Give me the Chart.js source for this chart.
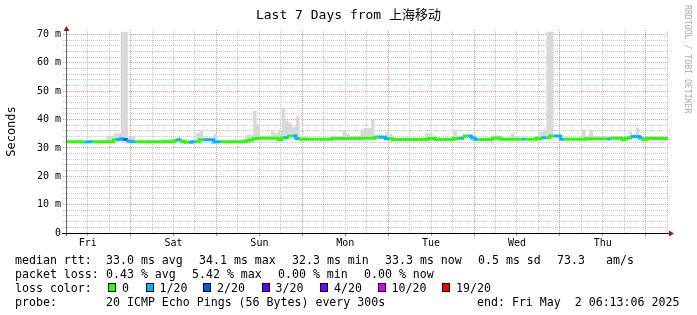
<!DOCTYPE html>
<html>
<head>
<meta charset="utf-8">
<script src="https://cdn.jsdelivr.net/npm/chart.js@4.4.1/dist/chart.umd.min.js"></script>
<style>
  body { margin: 0; background: #fff; }
  #wrap { position: relative; width: 697px; height: 315px; font-family: 'DejaVu Sans Mono', monospace; color: #000; }
  #wrap canvas { position: absolute; left: 0; top: 0; }
  #title { position: absolute; left: 0; top: 7px; width: 697px; text-align: center; font-size: 13px; line-height: 16px;
           font-family: 'DejaVu Sans Mono', 'Noto Sans CJK SC', monospace; white-space: pre; }
  .leg { position: absolute; font-size: 11.6px; line-height: 14px; white-space: pre; }
  .box { position: absolute; width: 8px; height: 9px; box-sizing: border-box; border: 1px solid #000; }
  #credit { position: absolute; left: 692px; top: 5px; transform: rotate(90deg); transform-origin: 0 0;
            font-size: 8.2px; line-height: 8px; white-space: pre; color: #aaa; }
</style>
</head>
<body>
<div id="wrap">
  <canvas id="chart" width="697" height="315"></canvas>
  <div id="title">Last 7 Days from 上海移动</div>
  <div id="credit">RRDTOOL / TOBI OETIKER</div>
</div>
<script>
// hourly values, first sample = Fri 06:13
const DAYS = ['Fri', 'Sat', 'Sun', 'Mon', 'Tue', 'Wed', 'Thu'];
const START = 6.22; // hours after Fri 00:00

const median = [
  32.2,32.2,32.2,32.2,32.2,32.1,32.1,32.2,32.2,32.2,32.2,32.2,32.2,32.2,32.8,33.0,33.2,33.0,32.4,32.2,32.2,32.2,32.2,32.2,
  32.2,32.2,32.2,32.2,32.2,32.2,32.2,32.6,32.9,32.3,32.0,32.0,32.2,32.2,32.9,32.9,32.9,32.9,32.1,32.2,32.2,32.2,32.2,32.2,
  32.2,32.2,32.2,32.5,32.8,33.2,33.4,33.4,33.4,33.4,33.4,33.4,33.0,33.5,33.6,34.2,34.2,33.3,33.1,33.1,33.1,33.1,33.1,33.1,
  33.1,33.1,33.1,33.3,33.3,33.3,33.3,33.3,33.3,33.3,33.3,33.4,33.4,33.4,33.4,33.8,33.8,33.8,33.2,33.2,33.0,33.0,33.0,33.0,
  33.0,33.0,33.0,33.0,33.0,33.0,33.3,33.3,33.0,33.0,33.0,33.0,33.0,33.3,33.3,33.4,34.2,34.2,33.5,33.0,33.0,33.0,33.0,33.0,
  33.4,33.5,33.1,33.1,33.1,33.1,33.1,33.1,33.1,33.1,33.1,33.1,33.3,33.2,33.6,33.6,34.2,34.2,34.2,33.1,33.1,33.1,33.1,33.1,
  33.1,33.1,33.2,33.2,33.2,33.2,33.2,33.2,33.2,33.4,33.4,33.4,33.0,33.4,33.6,34.0,34.0,33.5,33.0,33.3,33.3,33.3,33.3,33.3
];

// index into LOSS_COLORS
const loss = [
  0,0,0,0,0,1,1,0,0,0,0,0,0,0,1,1,2,1,1,0,0,0,0,0,
  0,0,0,0,0,0,0,1,0,0,1,1,0,0,1,1,1,1,1,0,0,0,0,0,
  0,0,0,0,0,0,0,0,0,0,0,0,0,1,0,1,1,0,0,0,0,0,0,0,
  0,0,0,0,0,0,0,0,0,0,0,0,0,0,0,1,1,1,0,0,0,0,0,0,
  0,0,0,0,0,0,0,0,0,0,0,0,0,0,1,0,1,1,1,0,0,0,0,0,
  0,0,0,0,0,0,0,1,0,0,0,0,0,1,0,0,1,1,1,0,0,0,0,0,
  0,0,0,0,0,0,0,1,0,0,0,0,0,0,1,1,1,0,0,0,0,0,0,0
];

// top of the smoke for each hour
const smokeMax = [
  32.5,32.5,32.5,32.5,32.5,32.5,32.5,32.5,32.5,32.5,32.5,32.5,34.3,34.3,35.2,35.2,71,71,34.0,34.0,32.5,32.5,32.5,32.5,
  32.5,32.5,32.5,32.5,33.0,33.0,33.0,33.2,33.2,33.2,32.5,32.5,32.5,35.2,36.2,33.5,33.5,33.5,35.0,32.5,32.5,32.5,32.5,32.5,
  32.5,32.5,32.5,34.6,34.6,43.0,38.5,33.8,33.8,33.8,36.0,35.2,36.4,43.7,39.7,38.7,37.3,41.1,34.3,34.3,33.5,33.5,33.5,33.5,
  33.5,33.5,33.5,33.5,33.5,33.5,36.2,35.0,33.7,33.7,33.7,36.5,37.0,37.0,40.0,34.5,35.0,34.5,35.5,35.0,33.4,33.4,33.4,33.4,
  33.4,33.4,33.4,33.4,33.4,35.2,35.2,33.5,33.5,33.5,33.5,33.5,33.5,36.4,34.0,34.0,34.6,34.6,34.6,33.5,33.5,33.5,33.5,33.5,
  33.5,33.5,33.5,33.5,33.5,35.0,33.5,33.5,33.5,33.5,33.5,33.5,33.5,35.8,36.4,71,71,34.5,34.5,33.5,33.5,33.5,33.5,33.5,
  33.5,36.4,33.5,36.4,33.5,33.5,33.5,33.5,33.5,33.5,33.5,33.5,33.5,33.5,35.8,34.5,37.2,34.5,33.6,33.6,33.6,33.6,33.6,33.6
];

const LOSS_LABELS = ['0', '1/20', '2/20', '3/20', '4/20', '10/20', '19/20'];
const LOSS_COLORS = ['#26ff00', '#00b8ff', '#0059ff', '#5e00ff', '#7e00ff', '#dd00ff', '#ff0000'];

const FONT = "'DejaVu Sans Mono', monospace";
const MINOR = 'rgba(150,150,150,0.5)';
const MAJOR = 'rgba(215,70,70,0.55)';

// stepped series need a closing point at the right edge
const pts = arr => arr.map((v, i) => ({ x: START + i, y: v }))
  .concat([{ x: START + arr.length, y: arr[arr.length - 1] }]);

const axisArrows = {
  id: 'axisArrows',
  afterDraw(chart) {
    const { ctx, chartArea: a } = chart;
    ctx.save();
    ctx.lineWidth = 1;
    ctx.strokeStyle = '#666';
    ctx.beginPath();
    ctx.moveTo(a.left - 0.5, a.bottom + 3);
    ctx.lineTo(a.left - 0.5, a.top);
    ctx.stroke();
    ctx.strokeStyle = '#000';
    ctx.beginPath();
    ctx.moveTo(a.left - 5, a.bottom + 0.5);
    ctx.lineTo(a.right + 1, a.bottom + 0.5);
    ctx.stroke();
    ctx.fillStyle = '#a01818';
    ctx.beginPath();
    ctx.moveTo(a.left - 0.5, a.top - 4);
    ctx.lineTo(a.left - 3.5, a.top + 1);
    ctx.lineTo(a.left + 2.5, a.top + 1);
    ctx.fill();
    ctx.beginPath();
    ctx.moveTo(a.right + 6, a.bottom + 0.5);
    ctx.lineTo(a.right + 1, a.bottom - 2.5);
    ctx.lineTo(a.right + 1, a.bottom + 3.5);
    ctx.fill();
    ctx.restore();
  }
};

new Chart(document.getElementById('chart'), {
  type: 'line',
  data: {
    datasets: [
      { data: pts(median), stepped: 'after', borderWidth: 0, borderColor: 'transparent',
        pointRadius: 0, fill: false, order: 3 },
      { data: pts(smokeMax), stepped: 'after', borderWidth: 0, borderColor: 'transparent',
        pointRadius: 0, fill: '-1', backgroundColor: '#d8d8d8', order: 2 },
      { data: pts(median), stepped: 'after', borderWidth: 3, borderCapStyle: 'butt',
        pointRadius: 0, fill: false, order: 1,
        segment: { borderColor: c => LOSS_COLORS[loss[c.p0DataIndex]] || LOSS_COLORS[0] } }
    ]
  },
  options: {
    responsive: false,
    animation: false,
    events: [],
    devicePixelRatio: 1,
    layout: { padding: { left: 0, right: 29, top: 30, bottom: 0 } },
    plugins: {
      legend: { display: false },
      tooltip: { enabled: false },
      title: { display: false }
    },
    scales: {
      x: {
        type: 'linear',
        min: START,
        max: START + median.length,
        afterBuildTicks: s => {
          s.ticks = [];
          for (let h = 12; h <= START + median.length; h += 6) s.ticks.push({ value: h });
        },
        afterFit: s => { s.height = 82; },
        ticks: {
          autoSkip: false, maxRotation: 0, padding: 1, color: '#000',
          font: { family: FONT, size: 10 },
          callback: v => (v % 24 === 12 ? DAYS[(v - 12) / 24] : '')
        },
        grid: {
          lineWidth: 1,
          tickLength: 3,
          color: c => (c.tick && c.tick.value % 24 === 0 ? MAJOR : MINOR),
          tickColor: c => (c.tick && c.tick.value % 12 === 0 ? '#999' : 'transparent')
        },
        border: { display: false, dash: [1, 1] }
      },
      y: {
        min: 0,
        max: 71.6,
        afterBuildTicks: s => {
          s.ticks = [];
          for (let v = 0; v <= 70; v += 2) s.ticks.push({ value: v });
        },
        afterFit: s => { s.width = 67; },
        ticks: {
          autoSkip: false, padding: 2, color: '#000',
          font: { family: FONT, size: 10 },
          callback: v => (v % 10 ? '' : (v ? v + ' m' : '0'))
        },
        grid: {
          lineWidth: 1,
          tickLength: 4,
          color: c => (c.tick && c.tick.value % 10 === 0 ? MAJOR : MINOR),
          tickColor: c => (c.tick && c.tick.value % 10 === 0 ? MAJOR : MINOR),
          tickBorderDash: [1, 1]
        },
        border: { display: false, dash: [1, 1] },
        title: {
          display: true, text: 'Seconds', color: '#000',
          font: { family: FONT, size: 12 },
          padding: { top: 5, bottom: 0 }
        }
      }
    }
  },
  plugins: [axisArrows]
});

// legend below the plot
const wrap = document.getElementById('wrap');
function addText(x, y, text) {
  const d = document.createElement('div');
  d.className = 'leg';
  d.style.left = x + 'px';
  d.style.top = y + 'px';
  d.textContent = text;
  wrap.appendChild(d);
}
const statLines = [
  [253, [[15, 'median rtt:'], [106, '33.0 ms avg'], [199, '34.1 ms max'], [292, '32.3 ms min'],
         [385, '33.3 ms now'], [478, '0.5 ms sd'], [557, '73.3'], [606, 'am/s']]],
  [267, [[15, 'packet loss:'], [106, '0.43 % avg'], [192, '5.42 % max'], [278, '0.00 % min'], [364, '0.00 % now']]],
  [295, [[15, 'probe:'], [106, '20 ICMP Echo Pings (56 Bytes) every 300s'], [477, 'end: Fri May  2 06:13:06 2025']]]
];
statLines.forEach(([y, items]) => items.forEach(([x, t]) => addText(x, y, t)));

addText(15, 281, 'loss color:');
const BOX_X = [108, 145.5, 203, 261.5, 320, 377.5, 442];
LOSS_LABELS.forEach((lab, i) => {
  const b = document.createElement('div');
  b.className = 'box';
  b.style.left = BOX_X[i] + 'px';
  b.style.top = '283px';
  b.style.background = LOSS_COLORS[i];
  wrap.appendChild(b);
  addText(BOX_X[i] + 14, 281, lab);
});
</script>
</body>
</html>
